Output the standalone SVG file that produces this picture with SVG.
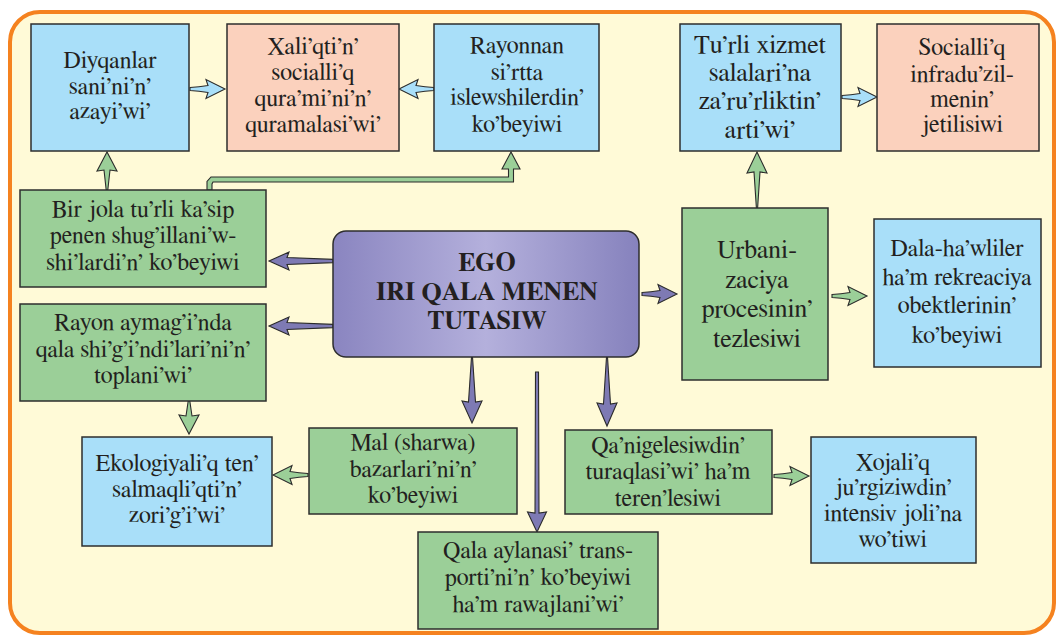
<svg xmlns="http://www.w3.org/2000/svg" xmlns:xlink="http://www.w3.org/1999/xlink" width="1057" height="636" viewBox="0 0 1057 636">
<style>
.bx{stroke:#2e2e2e;stroke-width:1.5}
.blue{fill:#a9dff9}
.pink{fill:#fbd1bd}
.green{fill:#9bcf98}
text{font-family:FreeSerif,'Liberation Serif','DejaVu Serif',serif}
.t{font-size:24px;fill:#231f20;text-anchor:middle}
.t26{font-size:26px}
.tb{font-size:26px;font-weight:bold;fill:#231f20;text-anchor:middle}
.ab{fill:#a9dff9;stroke:#2b2b2b;stroke-width:1.1;stroke-linejoin:miter}
.ag{fill:#9bcf98;stroke:#2b2b2b;stroke-width:1.1;stroke-linejoin:miter}
.ap{fill:#7e7ab4;stroke:#2b2b2b;stroke-width:1.1;stroke-linejoin:miter}
</style>
<defs>
<linearGradient id="egoGrad" x1="0" y1="0" x2="1" y2="0">
<stop offset="0" stop-color="#8a85c0"/>
<stop offset="0.5" stop-color="#b4b0dc"/>
<stop offset="1" stop-color="#8682bd"/>
</linearGradient>
<path id="a35" d="M-35,-1.5 Q-26,-2.2 -17,-3.5 L-19,-9.5 L0,0 L-19,9.5 L-17,3.5 Q-26,2.2 -35,1.5 Z"/>
<path id="a64" d="M-64,-1.6 L-18,-3.5 L-20,-9 L0,0 L-20,9 L-18,3.5 L-64,1.6 Z"/>
<path id="a38" d="M-38,-0.8 L-18,-3 L-19,-10 L0,0 L-19,10 L-18,3 L-38,0.8 Z"/>
<path id="a56" d="M-56,-0.6 L-20,-3 L-21,-10 L0,0 L-21,10 L-20,3 L-56,0.6 Z"/>
<path id="a33" d="M-33,-0.8 L-18,-3 L-19,-10 L0,0 L-19,10 L-18,3 L-33,0.8 Z"/>
<path id="a66" d="M-66,-0.5 L-21,-3.5 L-22,-10 L0,0 L-22,10 L-21,3.5 L-66,0.5 Z"/>
<path id="a69" d="M-69,-0.5 L-22,-3.5 L-23,-10 L0,0 L-23,10 L-22,3.5 L-69,0.5 Z"/>
<path id="a160" d="M-160,-1.5 L-19,-2 L-20,-9.5 L0,0 L-20,9.5 L-19,2 L-160,1.5 Z"/>
</defs>

<rect x="10" y="12" width="1044" height="621" rx="30" fill="#fffad7" stroke="#f5821f" stroke-width="4"/>

<g id="connectors">
<use xlink:href="#a35" class="ab" transform="translate(225,89)"/>
<use xlink:href="#a35" class="ab" transform="translate(399,89) rotate(180)"/>
<use xlink:href="#a35" class="ab" transform="translate(877,97)"/>
<use xlink:href="#a35" class="ap" transform="translate(677,294)"/>
<use xlink:href="#a35" class="ag" transform="translate(867,296)"/>
<use xlink:href="#a35" class="ag" transform="translate(273,475) rotate(180)"/>
<use xlink:href="#a35" class="ag" transform="translate(809,476)"/>
<use xlink:href="#a33" class="ag" transform="translate(189,434) rotate(90)"/>
<use xlink:href="#a38" class="ag" transform="translate(107,152) rotate(-90)"/>
<use xlink:href="#a56" class="ag" transform="translate(757,152) rotate(-90)"/>
<use xlink:href="#a64" class="ap" transform="translate(269,261) rotate(180)"/>
<use xlink:href="#a64" class="ap" transform="translate(269,326) rotate(180)"/>
<use xlink:href="#a66" class="ap" transform="translate(472,423) rotate(90)"/>
<use xlink:href="#a69" class="ap" transform="translate(607,426) rotate(90)"/>
<use xlink:href="#a160" class="ap" transform="translate(537,532) rotate(90)"/>
<path class="ag" d="M207,190 L207,181.5 L211,177 L508.5,177 L508.5,169 L502,169 L511,152 L520,169 L513.5,169 L513.5,182 L213,182 L212,184 L212,190 Z"/>
</g>

<g id="n-diyqanlar">
<rect class="bx blue" x="31" y="24" width="158" height="127"/>
<text class="t" x="110" y="68">Diyqanlar</text>
<text class="t" x="110" y="94">sani’ni’n’</text>
<text class="t" x="110" y="119">azayi’wi’</text>
</g>

<g id="n-xaliqtin">
<rect class="bx pink" x="227" y="24" width="172" height="127"/>
<text class="t" x="313" y="54">Xali’qti’n’</text>
<text class="t" x="313" y="80">socialli’q</text>
<text class="t" x="313" y="106">qura’mi’ni’n’</text>
<text class="t" x="313" y="132">quramalasi’wi’</text>
</g>

<g id="n-rayonnan">
<rect class="bx blue" x="434" y="24" width="165" height="127"/>
<text class="t" x="517" y="53">Rayonnan</text>
<text class="t" x="517" y="80">si’rtta</text>
<text class="t" x="517" y="105">islewshilerdin’</text>
<text class="t" x="517" y="132">ko’beyiwi</text>
</g>

<g id="n-turli">
<rect class="bx blue" x="680" y="24" width="161" height="127"/>
<text class="t t26" x="760" y="53">Tu’rli xizmet</text>
<text class="t t26" x="760" y="81">salalari’na</text>
<text class="t t26" x="760" y="109">za’ru’rliktin’</text>
<text class="t t26" x="760" y="138">arti’wi’</text>
</g>

<g id="n-socialliq">
<rect class="bx pink" x="877" y="24" width="162" height="127"/>
<text class="t" x="962" y="55">Socialli’q</text>
<text class="t" x="962" y="82">infradu’zil-</text>
<text class="t" x="962" y="107">menin’</text>
<text class="t" x="962" y="132">jetilisiwi</text>
</g>

<g id="n-birjola">
<rect class="bx green" x="20" y="190" width="246" height="97"/>
<text class="t" x="143" y="217">Bir jola tu’rli ka’sip</text>
<text class="t" x="143" y="243">penen shug’illani’w-</text>
<text class="t" x="143" y="270">shi’lardi’n’ ko’beyiwi</text>
</g>

<g id="n-rayonaymag">
<rect class="bx green" x="20" y="304" width="246" height="97"/>
<text class="t" x="143" y="330">Rayon aymag’i’nda</text>
<text class="t" x="143" y="357">qala shi’g’i’ndi’lari’ni’n’</text>
<text class="t" x="143" y="383">toplani’wi’</text>
</g>

<g id="n-ego">
<rect x="333" y="231" width="306" height="126" rx="13" fill="url(#egoGrad)" stroke="#2e2e2e" stroke-width="1.5"/>
<text class="tb" x="487" y="271">EGO</text>
<text class="tb" x="487" y="300">IRI QALA MENEN</text>
<text class="tb" x="487" y="329">TUTASIW</text>
</g>

<g id="n-urbani">
<rect class="bx green" x="682" y="208" width="146" height="172"/>
<text class="t t26" x="757" y="258">Urbani-</text>
<text class="t t26" x="757" y="288">zaciya</text>
<text class="t t26" x="757" y="317">procesinin’</text>
<text class="t t26" x="757" y="347">tezlesiwi</text>
</g>

<g id="n-dala">
<rect class="bx blue" x="874" y="219" width="167" height="148"/>
<text class="t" x="957" y="256">Dala-ha’wliler</text>
<text class="t" x="957" y="285">ha’m rekreaciya</text>
<text class="t" x="957" y="313">obektlerinin’</text>
<text class="t" x="957" y="343">ko’beyiwi</text>
</g>

<g id="n-ekologiyaliq">
<rect class="bx blue" x="82" y="437" width="190" height="109"/>
<text class="t" x="177" y="471">Ekologiyali’q ten’</text>
<text class="t" x="177" y="497">salmaqli’qti’n’</text>
<text class="t" x="177" y="523">zori’g’i’wi’</text>
</g>

<g id="n-mal">
<rect class="bx green" x="309" y="428" width="208" height="86"/>
<text class="t" x="413" y="450">Mal (sharwa)</text>
<text class="t" x="413" y="477">bazarlari’ni’n’</text>
<text class="t" x="413" y="503">ko’beyiwi</text>
</g>

<g id="n-qala">
<rect class="bx green" x="418" y="532" width="240" height="97"/>
<text class="t" x="538" y="558">Qala aylanasi’ trans-</text>
<text class="t" x="538" y="585">porti’ni’n’ ko’beyiwi</text>
<text class="t" x="538" y="612">ha’m rawajlani’wi’</text>
</g>

<g id="n-qanigelesiw">
<rect class="bx green" x="565" y="430" width="207" height="84"/>
<text class="t" x="668" y="453">Qa’nigelesiwdin’</text>
<text class="t" x="668" y="479">turaqlasi’wi’ ha’m</text>
<text class="t" x="668" y="506">teren’lesiwi</text>
</g>

<g id="n-xojaliq">
<rect class="bx blue" x="811" y="437" width="165" height="126"/>
<text class="t" x="893" y="470">Xojali’q</text>
<text class="t" x="893" y="495">ju’rgiziwdin’</text>
<text class="t" x="893" y="521">intensiv joli’na</text>
<text class="t" x="893" y="547">wo’tiwi</text>
</g>
</svg>
